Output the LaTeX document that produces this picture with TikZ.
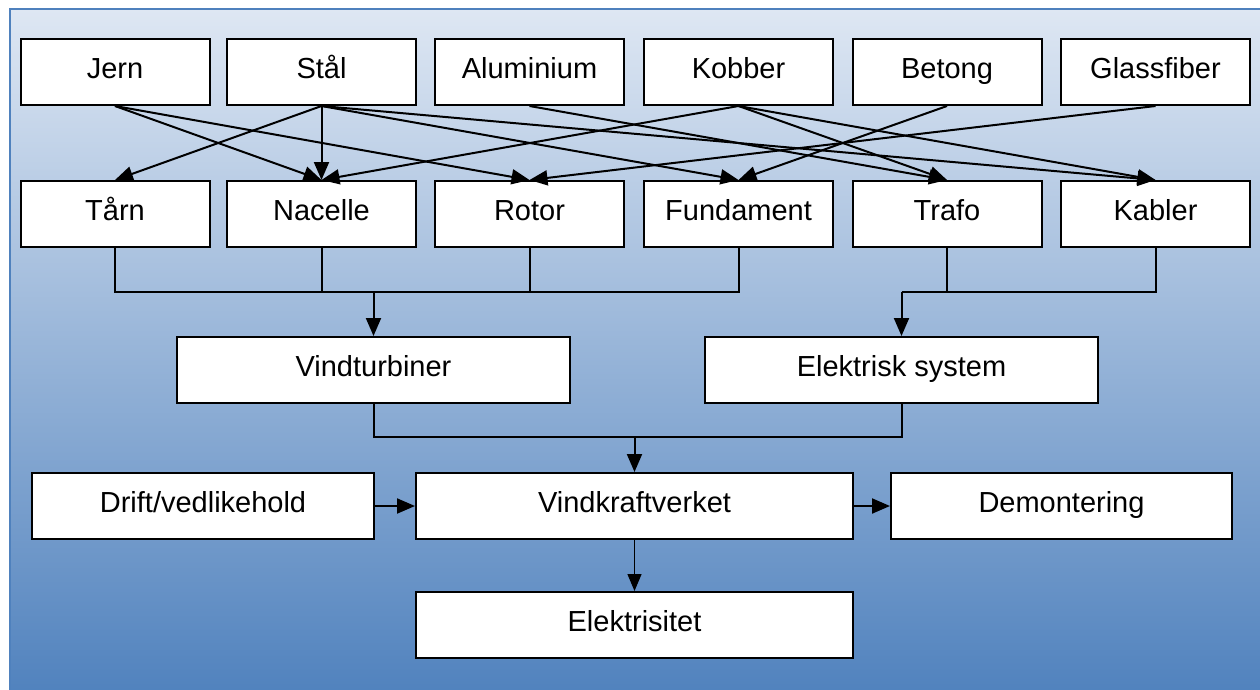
\documentclass[tikz,border=0pt]{standalone}
\usepackage{fontspec}
\setmainfont{Liberation Sans}
\usetikzlibrary{arrows.meta}
\definecolor{bgtop}{RGB}{222,231,243}
\definecolor{bgbot}{RGB}{79,129,189}
\definecolor{bgborder}{RGB}{79,129,189}
\tikzset{
  box/.style={draw=black, fill=white, line width=2pt, minimum height=66pt, inner sep=0pt,
    text height=20pt, text depth=8pt,
    font=\fontsize{29}{34}\selectfont},
  matbox/.style={box, minimum width=189pt},
  link/.style={draw=black, line width=2pt},
  arr/.style={link, -{Triangle[length=18pt,width=15pt]}},
  thinarr/.style={draw=black, line width=1.3pt, -{Triangle[length=17pt,width=14pt]}}
}
\begin{document}
\begin{tikzpicture}[x=1pt,y=-1pt]
\useasboundingbox (0,0) rectangle (1260,689);
\shade[top color=bgtop, bottom color=bgbot] (10,9) rectangle (1275,700);
\draw[bgborder, line width=2pt] (10,700) -- (10,9) -- (1275,9);

% materials
\node[matbox] (jern) at (115,72) {Jern};
\node[matbox] (stal) at (321.5,72) {Stål};
\node[matbox] (alu) at (529.5,72) {Aluminium};
\node[matbox] (kob) at (738.5,72) {Kobber};
\node[matbox] (bet) at (947,72) {Betong};
\node[matbox] (gla) at (1155.5,72) {Glassfiber};

% components
\node[matbox] (tarn) at (115,214) {Tårn};
\node[matbox] (nac) at (321.5,214) {Nacelle};
\node[matbox] (rot) at (529.5,214) {Rotor};
\node[matbox] (fund) at (738.5,214) {Fundament};
\node[matbox] (traf) at (947,214) {Trafo};
\node[matbox] (kab) at (1155.5,214) {Kabler};

% systems
\node[box, minimum width=393pt] (vt) at (373.5,370) {Vindturbiner};
\node[box, minimum width=393pt] (es) at (901.5,370) {Elektrisk system};

% plant
\node[box, minimum width=342pt] (drift) at (203,506) {Drift/vedlikehold};
\node[box, minimum width=437pt] (vk) at (634.5,506) {Vindkraftverket};
\node[box, minimum width=341pt] (dem) at (1061.5,506) {Demontering};
\node[box, minimum width=437pt] (el) at (634.5,625) {Elektrisitet};

% material links
\draw[arr] (jern.south) -- (nac.north);
\draw[arr] (jern.south) -- (rot.north);
\draw[arr] (stal.south) -- (tarn.north);
\draw[arr] (stal.south) -- (nac.north);
\draw[arr] (stal.south) -- (fund.north);
\draw[arr] (stal.south) -- (kab.north);
\draw[arr] (alu.south) -- (traf.north);
\draw[arr] (kob.south) -- (nac.north);
\draw[arr] (kob.south) -- (traf.north);
\draw[arr] (kob.south) -- (kab.north);
\draw[arr] (bet.south) -- (fund.north);
\draw[arr] (gla.south) -- (rot.north);

% buses
\coordinate (busL) at (373.5,292);
\coordinate (busR) at (901.5,292);
\coordinate (busM) at (634.5,437);
\draw[link] (tarn.south) -- (tarn.south |- busL) -- (fund.south |- busL) -- (fund.south);
\draw[link] (nac.south) -- (nac.south |- busL);
\draw[link] (rot.south) -- (rot.south |- busL);
\draw[arr] (busL) -- (vt.north);
\draw[link] (traf.south) -- (traf.south |- busR);
\draw[link] (busR) -- (kab.south |- busR) -- (kab.south);
\draw[arr] (busR) -- (es.north);
\draw[link] (vt.south) -- (vt.south |- busM) -- (es.south |- busM) -- (es.south);
\draw[arr] (busM) -- (vk.north);

% plant links
\draw[arr] (drift.east) -- (vk.west);
\draw[arr] (vk.east) -- (dem.west);
\draw[thinarr] (vk.south) -- (el.north);
\end{tikzpicture}
\end{document}
